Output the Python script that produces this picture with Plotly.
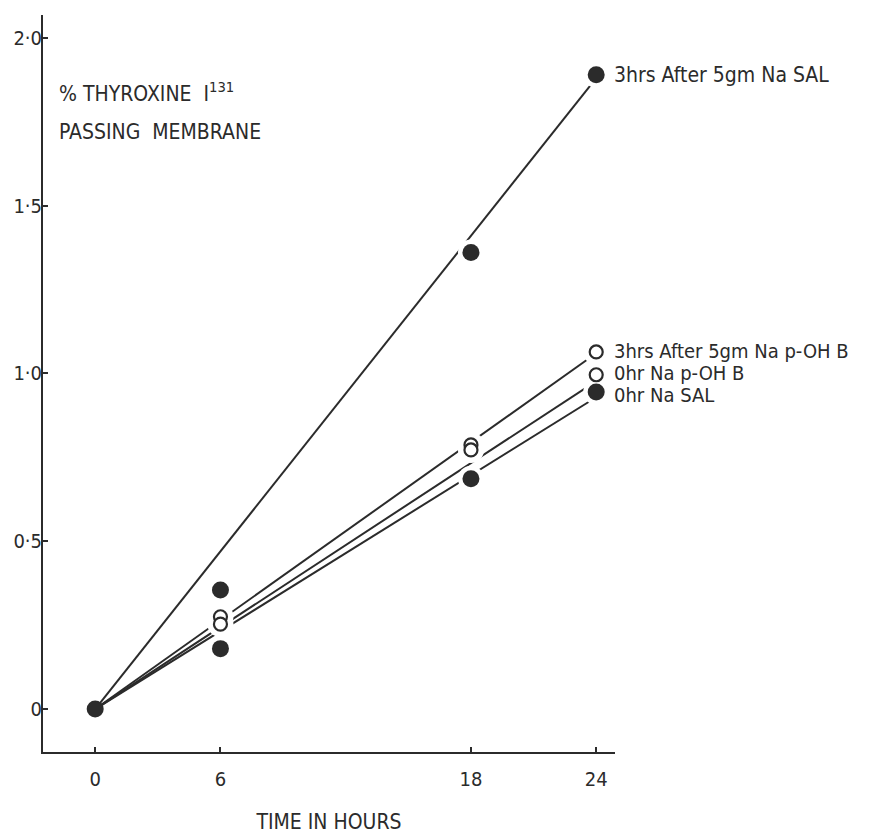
import plotly.graph_objects as go

# ---- data ----
hours = [0, 6, 18, 24]
sal_3hr = [0, 0.355, 1.36, 1.89]       # 3hrs After 5gm Na SAL (filled)
pohb_3hr = [0, 0.275, 0.787, 1.064]    # 3hrs After 5gm Na p-OH B (open)
pohb_0hr = [0, 0.253, 0.772, 0.996]    # 0hr Na p-OH B (open)
sal_0hr = [0, 0.18, 0.686, 0.945]      # 0hr Na SAL (filled)

fit_hours = [0, 24]
sal_3hr_fit = [0, 1.88]
pohb_3hr_fit = [0, 1.06]
pohb_0hr_fit = [0, 0.977]
sal_0hr_fit = [0, 0.929]

series_labels = ["3hrs After 5gm Na SAL", "3hrs After 5gm Na p-OH B",
                 "0hr Na p-OH B", "0hr Na SAL"]
y_tickvals = [0, 0.5, 1.0, 1.5, 2.0]
y_ticktext = ["0", "0·5", "1·0", "1·5", "2·0"]
x_tickvals = [0, 6, 18, 24]
x_ticktext = ["0", "6", "18", "24"]

INK = "#2b2b2b"
FONT = "DejaVu Sans Condensed, Liberation Sans Narrow, DejaVu Sans, sans-serif"

fig = go.Figure()

# fitted lines
for fy in [sal_3hr_fit, pohb_3hr_fit, pohb_0hr_fit, sal_0hr_fit]:
    fig.add_trace(go.Scatter(x=fit_hours, y=fy, mode="lines",
                             line=dict(color=INK, width=2), hoverinfo="skip"))

# white halos (gaps in lines around points), excluding origin
halo_x, halo_y = [], []
for s in [sal_3hr, pohb_3hr, pohb_0hr, sal_0hr]:
    halo_x += hours[1:]
    halo_y += s[1:]
fig.add_trace(go.Scatter(x=halo_x, y=halo_y, mode="markers",
                         marker=dict(size=26, color="white", line=dict(width=0)),
                         hoverinfo="skip"))

# data markers
fig.add_trace(go.Scatter(x=hours[1:], y=sal_3hr[1:], mode="markers",
                         marker=dict(size=17, color=INK, line=dict(width=0))))
fig.add_trace(go.Scatter(x=hours[1:], y=sal_0hr[1:], mode="markers",
                         marker=dict(size=17, color=INK, line=dict(width=0))))
fig.add_trace(go.Scatter(x=hours[1:], y=pohb_3hr[1:], mode="markers",
                         marker=dict(size=13, color="white", line=dict(width=2.2, color=INK))))
fig.add_trace(go.Scatter(x=hours[1:], y=pohb_0hr[1:], mode="markers",
                         marker=dict(size=13, color="white", line=dict(width=2.2, color=INK))))
# origin point shared by all series
fig.add_trace(go.Scatter(x=hours[:1], y=sal_3hr[:1], mode="markers",
                         marker=dict(size=17, color=INK, line=dict(width=0))))

# end labels
ends = [sal_3hr[-1], pohb_3hr[-1], pohb_0hr[-1], sal_0hr[-1]]
yshifts = [0, 1, 2, -3]
sizes = [21, 20, 20, 20]
for lab, yv, ys, fs in zip(series_labels, ends, yshifts, sizes):
    fig.add_annotation(x=hours[-1], y=yv, xref="x", yref="y", text=lab,
                       showarrow=False, xanchor="left", yanchor="middle",
                       xshift=16, yshift=ys,
                       font=dict(family=FONT, size=fs, color=INK))

# in-plot title
fig.add_annotation(x=-1.85, y=1.84, xref="x", yref="y",
                   text="% THYROXINE  I<sup>131</sup>", showarrow=False,
                   xanchor="left", yanchor="middle",
                   font=dict(family=FONT, size=21, color=INK))
fig.add_annotation(x=-1.85, y=1.72, xref="x", yref="y",
                   text="PASSING  MEMBRANE", showarrow=False,
                   xanchor="left", yanchor="middle",
                   font=dict(family=FONT, size=21, color=INK))

# page body has an 8px default margin, so the figure is sized/placed to compensate
fig.update_layout(
    width=870, height=826,
    margin=dict(l=35, r=263, t=7, b=82),
    paper_bgcolor="white", plot_bgcolor="white",
    showlegend=False,
    font=dict(family=FONT, size=19, color=INK),
    xaxis=dict(range=[-2.5, 24.9], tickvals=x_tickvals, ticktext=x_ticktext,
               automargin=False, ticklabelstandoff=8,
               showgrid=False, zeroline=False, showline=True, linecolor=INK,
               linewidth=2, ticks="inside", ticklen=5, tickwidth=2, tickcolor=INK,
               tickfont=dict(family=FONT, size=20, color=INK),
               title=dict(text="TIME IN HOURS", standoff=36,
                          font=dict(family=FONT, size=21, color=INK))),
    yaxis=dict(range=[-0.128, 2.068], tickvals=y_tickvals, ticktext=y_ticktext,
               automargin=False, ticklabelstandoff=-5,
               showgrid=False, zeroline=False, showline=True, linecolor=INK,
               linewidth=2, ticks="inside", ticklen=5, tickwidth=2, tickcolor=INK,
               tickfont=dict(family=FONT, size=20, color=INK)),
)

fig.write_html("out.html")
